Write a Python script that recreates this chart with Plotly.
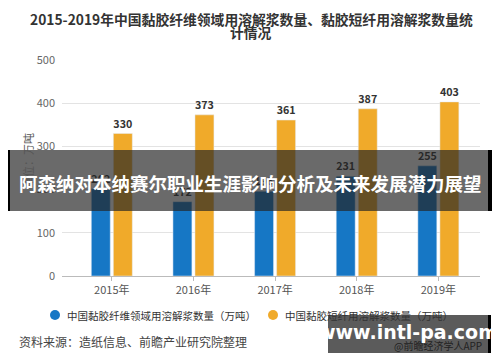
import plotly.graph_objects as go

years = ["2015年", "2016年", "2017年", "2018年", "2019年"]
fiber_vals = [202, 172, 196, 231, 255]
staple_vals = [330, 373, 361, 387, 403]
series_names = ["中国黏胶纤维领域用溶解浆数量（万吨）", "中国黏胶短纤用溶解浆数量（万吨）"]
title_lines = ["2015-2019年中国黏胶纤维领域用溶解浆数量、黏胶短纤用溶解浆数量统", "计情况"]
banner_text = "阿森纳对本纳赛尔职业生涯影响分析及未来发展潜力展望"
source_text = "资料来源：造纸信息、前瞻产业研究院整理"
wm_text = "www.intl-pa.com"
app_text = "@前瞻经济学人APP"

# page geometry (the page body has an 8px default margin)
OFF = 8
W, H = 500, 362
L, R, T, B = 62, 20, 60, 86
PW, PH = W - L - R, H - T - B

def px(x):
    return (x - L) / PW

def py(y):
    return (H - B - y) / PH

FONT = "Noto Sans CJK SC"
BLUE = "#1677c5"
ORANGE = "#f0aa2a"
COLORS = [BLUE, ORANGE]

fig = go.Figure()
for vals, nm, c in zip([fiber_vals, staple_vals], series_names, COLORS):
    fig.add_bar(x=years, y=vals, marker_color=c, name=nm,
                text=vals, textposition="outside", cliponaxis=False,
                textfont=dict(size=11, color="#333", family=FONT, weight="bold"),
                showlegend=False)

ann = []
ann.append(dict(x=px(251), y=py(19), xref="paper", yref="paper", text="<b>" + title_lines[0] + "</b>",
                showarrow=False, font=dict(size=13.8, color="#333", family=FONT), xanchor="center", yanchor="middle"))
ann.append(dict(x=px(251), y=py(32), xref="paper", yref="paper", text="<b>" + title_lines[1] + "</b>",
                showarrow=False, font=dict(size=13.8, color="#333", family=FONT), xanchor="center", yanchor="middle"))
ann.append(dict(x=px(28), y=py(161), xref="paper", yref="paper", text="单位：万吨", textangle=-90,
                showarrow=False, font=dict(size=11, color="#555", family=FONT), xanchor="center", yanchor="middle"))
ann.append(dict(x=px(17), y=py(341), xref="paper", yref="paper", text=source_text,
                showarrow=False, font=dict(size=12, color="#444", family=FONT), xanchor="left", yanchor="middle"))
ann.append(dict(x=px(484), y=py(345), xref="paper", yref="paper", text=app_text,
                showarrow=False, font=dict(size=10, color="#222", family=FONT), xanchor="right", yanchor="middle"))

shapes = []
leg_marker_x = [55, 273]
for mx, nm, c in zip(leg_marker_x, series_names, COLORS):
    shapes.append(dict(type="circle", xref="paper", yref="paper",
                       x0=px(mx - 5), x1=px(mx + 5), y0=py(320), y1=py(310),
                       fillcolor=c, line_width=0))
    ann.append(dict(x=px(mx + 10), y=py(315), xref="paper", yref="paper", text=nm,
                    showarrow=False, font=dict(size=10.5, color="#333", family=FONT),
                    xanchor="left", yanchor="middle"))

ann.append(dict(x=px(250), y=py(183), xref="paper", yref="paper", text="<b>" + banner_text + "</b>",
                showarrow=False, font=dict(size=18.5, color="white", family=FONT), xanchor="center", yanchor="middle"))
ann.append(dict(x=px(408), y=py(332), xref="paper", yref="paper", text="<b>" + wm_text + "</b>",
                showarrow=False, font=dict(size=19, color="white", family="DejaVu Sans"), xanchor="center", yanchor="middle"))

shapes.append(dict(type="rect", xref="paper", yref="paper", x0=px(0), x1=px(10), y0=py(150), y1=py(211),
                   fillcolor="black", line_width=0, layer="above"))
shapes.append(dict(type="rect", xref="paper", yref="paper", x0=px(488), x1=px(500), y0=py(150), y1=py(211),
                   fillcolor="black", line_width=0, layer="above"))
shapes.append(dict(type="rect", xref="paper", yref="paper", x0=px(10), x1=px(488), y0=py(150), y1=py(211),
                   fillcolor="rgba(35,35,35,0.68)", line_width=0, layer="above"))
shapes.append(dict(type="rect", xref="paper", yref="paper", x0=px(328), x1=px(488), y0=py(315), y1=py(353),
                   fillcolor="rgba(50,50,50,0.8)", line_width=0, layer="above"))
shapes.append(dict(type="rect", xref="paper", yref="paper", x0=px(488), x1=px(491), y0=py(315), y1=py(353),
                   fillcolor="black", line_width=0, layer="above"))

fig.update_layout(
    width=W - OFF, height=H - OFF, margin=dict(l=L - OFF, r=R, t=T - OFF, b=B, pad=0),
    paper_bgcolor="white", plot_bgcolor="white",
    barmode="group", bargap=0.46, bargroupgap=0.14,
    font=dict(family=FONT, color="#444"),
    annotations=ann, shapes=shapes, showlegend=False,
)
fig.update_xaxes(range=[-0.61, 4.51], showline=True, linecolor="#bbb", linewidth=1,
                 ticks="outside", ticklen=4, tickcolor="#bbb", showgrid=False,
                 tickfont=dict(size=11, color="#555", family=FONT))
fig.update_yaxes(range=[0, 500], tickvals=[0, 100, 200, 300, 400, 500], showgrid=True,
                 gridcolor="#e3e3e3", gridwidth=1, zeroline=False, showline=False,
                 ticks="", ticklabelstandoff=6,
                 tickfont=dict(size=11, color="#666", family=FONT))

fig.write_html("out.html")
